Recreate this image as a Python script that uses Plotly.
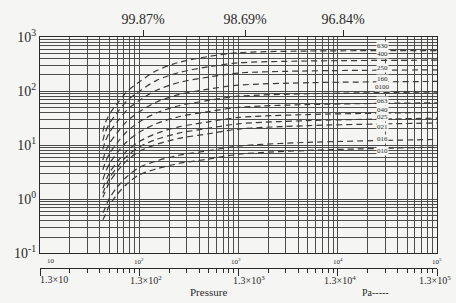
import math
import plotly.graph_objects as go

# ---------------- data ----------------
pressure = [43, 45, 50, 60, 75, 100, 150, 250, 500, 1000, 5000, 100000]

s630 = [17.8, 24.5, 37.2, 58.9, 97.7, 148, 240, 339, 437, 513, 550, 562]
s400 = [12.2, 16.6, 25.2, 40.0, 65.9, 99.5, 158, 220, 282, 333, 360, 373]
s250 = [8.41, 11.2, 17.1, 27.2, 44.6, 67.1, 104, 144, 182, 216, 236, 247]
s160 = [5.33, 7.01, 10.7, 17.1, 27.7, 41.7, 63.1, 86.1, 109, 129, 143, 151]
s100 = [3.52, 4.55, 6.95, 11.1, 17.9, 26.9, 39.8, 53.7, 67.3, 80.5, 89.5, 96]
s063 = [2.32, 2.96, 4.53, 7.26, 11.6, 17.4, 25.2, 33.6, 41.8, 50.2, 56.4, 61]
s040 = [1.60, 2.00, 3.07, 4.93, 7.85, 11.7, 16.6, 21.8, 27.0, 32.6, 36.9, 40.5]
s025 = [1.29, 1.60, 2.45, 3.95, 6.25, 9.31, 12.9, 16.7, 20.6, 24.9, 28.5, 31.6]
s021 = [1.09, 1.33, 2.05, 3.30, 5.19, 7.71, 10.4, 13.4, 16.3, 19.9, 23.0, 25.8]
s016 = [0.564, 0.673, 1.04, 1.68, 2.62, 3.89, 5.13, 6.53, 7.91, 9.68, 11.3, 12.8]
s010 = [0.421, 0.494, 0.766, 1.24, 1.92, 2.84, 3.66, 4.61, 5.55, 6.82, 8.02, 9.2]

series = [s630, s400, s250, s160, s100, s063, s040, s025, s021, s016, s010]
series_labels = ["630", "400", "250", "160", "0100", "063", "040", "025", "021", "016", "010"]
label_log_y = [2.839, 2.679, 2.429, 2.232, 2.071, 1.821, 1.643, 1.515, 1.345, 1.107, 0.893]

y_tick_text = ["10<sup>-1</sup>", "10<sup>0</sup>", "10<sup>1</sup>", "10<sup>2</sup>", "10<sup>3</sup>"]
x_row1_text = ["10", "10<sup>2</sup>", "10<sup>3</sup>", "10<sup>4</sup>", "10<sup>5</sup>"]
x_row2_text = ["1.3×10", "1.3×10<sup>2</sup>", "1.3×10<sup>3</sup>", "1.3×10<sup>4</sup>", "1.3×10<sup>5</sup>"]
pct_text = ["99.87%", "98.69%", "96.84%"]
pct_pos = [10 ** 2.038, 10 ** 3.066, 10 ** 4.053]

# ---------------- styling ----------------
BG = "#f5f5f3"
GRID = "#4d4d4d"
INK = "#2a2a2a"
SERIF = "Liberation Serif, Times New Roman, DejaVu Serif, serif"

x_decades = [10, 100, 1000, 10000, 100000]
x_all = [m * d for d in [10, 100, 1000, 10000] for m in range(1, 10)] + [100000]
x_minor = [v for v in x_all if v not in x_decades]
y_decades = [0.1, 1, 10, 100, 1000]
y_all = [m * d for d in [0.1, 1, 10, 100] for m in range(1, 10)] + [1000]
y_ticktext = [y_tick_text[y_decades.index(v)] if v in y_decades else "" for v in y_all]

fig = go.Figure()
for ys in series:
    fig.add_trace(go.Scatter(
        x=pressure, y=ys, mode="lines",
        line=dict(color="#3a3a3a", width=1.2, dash="6px,4px", shape="spline", smoothing=0.8),
        showlegend=False, hoverinfo="skip"))

# helper traces so the extra axes render
fig.add_trace(go.Scatter(x=[100], y=[1], xaxis="x2", yaxis="y", mode="markers",
                         marker=dict(opacity=0), showlegend=False, hoverinfo="skip"))
fig.add_trace(go.Scatter(x=[100], y=[1], xaxis="x3", yaxis="y", mode="markers",
                         marker=dict(opacity=0), showlegend=False, hoverinfo="skip"))

annotations = []
# first row of bottom labels
row1_shift = [11, 0, -3, 0, 0]
for v, t, s in zip(x_decades, x_row1_text, row1_shift):
    annotations.append(dict(x=math.log10(v), y=0.029, xref="x", yref="paper", text=t,
                            showarrow=False, xshift=s, yanchor="middle",
                            font=dict(family=SERIF, size=7, color=INK)))
# second row of bottom labels
row2_x = [1.0, 1.907, 2.945, 3.841, 4.799]
row2_shift = [-2, -2, -2, 0, 0]
for lx, t, s in zip(row2_x, x_row2_text, row2_shift):
    annotations.append(dict(x=lx, y=-0.05, xref="x", yref="paper", text=t,
                            showarrow=False, xanchor="left", yanchor="middle", xshift=s,
                            font=dict(family=SERIF, size=10, color=INK)))
annotations.append(dict(x=2.693, y=-0.105, xref="x", yref="paper", text="Pressure",
                        showarrow=False, yanchor="middle",
                        font=dict(family=SERIF, size=11, color=INK)))
annotations.append(dict(x=4.385, y=-0.105, xref="x", yref="paper", text="Pa-----",
                        showarrow=False, yanchor="middle",
                        font=dict(family=SERIF, size=10, color=INK)))
# curve labels
for t, ly in zip(series_labels, label_log_y):
    annotations.append(dict(x=4.446, y=ly, xref="x", yref="y", text=t, showarrow=False,
                            bgcolor=BG, borderpad=0,
                            font=dict(family=SERIF, size=7, color=INK)))

fig.update_layout(
    width=456, height=303, autosize=False,
    margin=dict(l=40, r=19, t=29, b=35),
    paper_bgcolor=BG, plot_bgcolor=BG,
    showlegend=False,
    annotations=annotations,
    xaxis=dict(type="log", range=[1, 5], anchor="y",
               tickmode="array", tickvals=x_all, showticklabels=False, ticks="",
               showgrid=True, gridcolor=GRID, gridwidth=1,
               showline=True, mirror=True, linecolor=INK, linewidth=1, zeroline=False),
    xaxis2=dict(type="log", range=[1, 5], overlaying="x", anchor="free", position=0,
                tickmode="array", tickvals=x_decades, showticklabels=False,
                ticks="outside", ticklen=7, tickcolor=INK, tickwidth=1,
                minor=dict(tickmode="array", tickvals=x_minor, ticks="outside",
                           ticklen=4, tickcolor=INK, tickwidth=1, showgrid=False),
                showgrid=False, showline=True, linecolor=INK, linewidth=1, zeroline=False),
    xaxis3=dict(type="log", range=[1, 5], overlaying="x", anchor="y", side="top",
                tickmode="array", tickvals=pct_pos, ticktext=pct_text,
                ticks="outside", ticklen=6, tickcolor=INK, tickwidth=1,
                tickfont=dict(family=SERIF, size=14, color=INK),
                showgrid=False, showline=False, zeroline=False),
    yaxis=dict(type="log", range=[-1, 3], domain=[0.063, 1],
               tickmode="array", tickvals=y_all, ticktext=y_ticktext, ticks="",
               tickfont=dict(family=SERIF, size=14, color=INK),
               showgrid=True, gridcolor=GRID, gridwidth=1,
               showline=True, mirror=True, linecolor=INK, linewidth=1, zeroline=False),
)

fig.write_html("out.html")
